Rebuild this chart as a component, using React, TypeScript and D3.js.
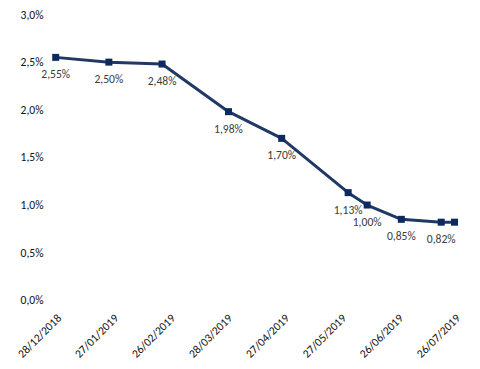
import React from 'react';
import * as d3 from 'd3';

// observation dates and rates (%)
const dates = [
  '28/12/2018', '25/01/2019', '22/02/2019', '29/03/2019', '26/04/2019',
  '31/05/2019', '10/06/2019', '28/06/2019', '19/07/2019', '26/07/2019',
];
const rates = [2.55, 2.5, 2.48, 1.98, 1.7, 1.13, 1.0, 0.85, 0.82, 0.82];
// last point has no visible label in the original
const showLabel = [true, true, true, true, true, true, true, true, true, false];

const xTickLabels = [
  '28/12/2018', '27/01/2019', '26/02/2019', '28/03/2019',
  '27/04/2019', '27/05/2019', '26/06/2019', '26/07/2019',
];
const yTicks = [0, 0.5, 1, 1.5, 2, 2.5, 3];

const parse = d3.timeParse('%d/%m/%Y');
const fmtPct = (v: number, digits: number) => v.toFixed(digits).replace('.', ',') + '%';

const width = 480;
const height = 369;
const font = 'Carlito, Calibri, Lato, sans-serif';
const fs = 11.6;

const App = () => {
  const x = d3
    .scaleTime()
    .domain([parse(xTickLabels[0]) as Date, parse(xTickLabels[xTickLabels.length - 1]) as Date])
    .range([55.7, 454.5]);
  const y = d3.scaleLinear().domain([0, 3]).range([300.3, 14.5]);

  const pts = dates.map((d, i) => ({ date: parse(d) as Date, v: rates[i], show: showLabel[i] }));

  const line = d3
    .line<{ date: Date; v: number }>()
    .x((d) => x(d.date))
    .y((d) => y(d.v));

  return (
    <svg
      width={width}
      height={height}
      style={{ position: 'absolute', left: 0, top: 0, background: '#fff' }}
      fontFamily={font}
    >
      {yTicks.map((t) => (
        <text key={t} x={43.5} y={y(t)} dy="0.35em" textAnchor="end" fontSize={fs} fill="#111">
          {fmtPct(t, 1)}
        </text>
      ))}

      {xTickLabels.map((lbl) => {
        const px = x(parse(lbl) as Date);
        return (
          <text
            key={lbl}
            transform={`translate(${px + 3.5},${316}) rotate(-45)`}
            dy="0.35em"
            textAnchor="end"
            fontSize={fs}
            fill="#111"
          >
            {lbl}
          </text>
        );
      })}

      <path d={line(pts) || ''} fill="none" stroke="#1f3864" strokeWidth={3} strokeLinejoin="round" />

      {pts.map((p, i) => (
        <rect
          key={i}
          x={x(p.date) - 3.5}
          y={y(p.v) - 3.5}
          width={7}
          height={7}
          fill="#0c2a60"
        />
      ))}

      {pts.map((p, i) =>
        p.show ? (
          <text
            key={'l' + i}
            x={x(p.date)}
            y={y(p.v) + 17}
            dy="0.35em"
            textAnchor="middle"
            fontSize={fs}
            fill="#3a3a3a"
          >
            {fmtPct(p.v, 2)}
          </text>
        ) : null
      )}
    </svg>
  );
};

export default App;
